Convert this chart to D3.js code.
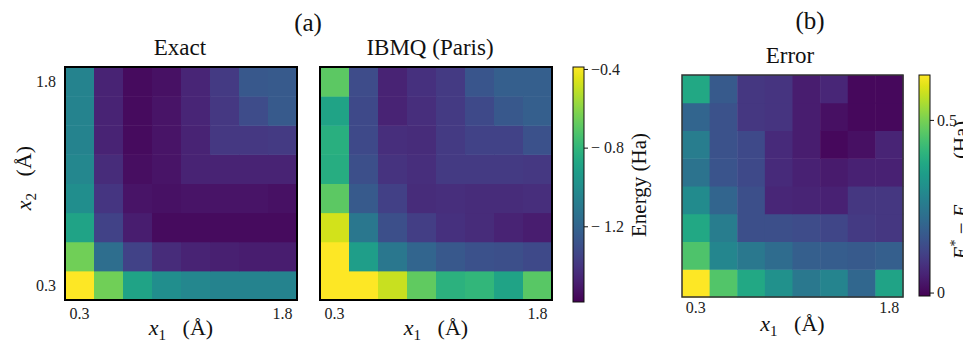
<!DOCTYPE html>
<html>
<head>
<meta charset="utf-8">
<script src="https://cdn.jsdelivr.net/npm/d3@7"></script>
<style>
  body { margin: 0; background: #fff; }
  svg { display: block; font-family: 'Liberation Serif', 'DejaVu Serif', serif; }
</style>
</head>
<body>
<div id="chart"></div>
<script>
// grid positions along x1 / x2 (Angstrom), only the ends are labelled
const gridIdx = d3.range(8)
const tickIdx = [0, 7]
const tickLabels = ['0.3', '1.8']

// energies (Ha), rows = x2 from 0.3 up to 1.8, cols = x1 from 0.3 to 1.8
const exact = [
  [-0.39, -0.65, -0.89, -1.00, -1.03, -1.05, -1.05, -1.05],
  [-0.65, -1.16, -1.35, -1.44, -1.47, -1.48, -1.49, -1.49],
  [-0.89, -1.35, -1.49, -1.55, -1.55, -1.55, -1.55, -1.55],
  [-1.00, -1.40, -1.52, -1.53, -1.52, -1.52, -1.52, -1.53],
  [-1.03, -1.44, -1.54, -1.52, -1.47, -1.47, -1.47, -1.47],
  [-1.05, -1.47, -1.55, -1.52, -1.47, -1.39, -1.39, -1.38],
  [-1.05, -1.47, -1.55, -1.52, -1.46, -1.39, -1.31, -1.25],
  [-1.05, -1.47, -1.55, -1.53, -1.46, -1.38, -1.26, -1.25]
]

const ibmq = [
  [-0.20, -0.28, -0.49, -0.68, -0.82, -0.80, -0.89, -0.70],
  [-0.30, -0.92, -1.11, -1.20, -1.26, -1.29, -1.30, -1.32],
  [-0.47, -1.11, -1.30, -1.37, -1.42, -1.44, -1.47, -1.49],
  [-0.69, -1.25, -1.36, -1.44, -1.43, -1.44, -1.44, -1.43],
  [-0.84, -1.30, -1.41, -1.43, -1.38, -1.38, -1.38, -1.39],
  [-0.83, -1.32, -1.43, -1.44, -1.38, -1.35, -1.35, -1.29],
  [-0.89, -1.32, -1.47, -1.43, -1.38, -1.32, -1.26, -1.23],
  [-0.69, -1.31, -1.47, -1.42, -1.38, -1.27, -1.23, -1.23]
]

// E* - E_exact (Ha)
const error = [
  [0.630, 0.457, 0.374, 0.310, 0.246, 0.278, 0.201, 0.361],
  [0.450, 0.284, 0.246, 0.214, 0.182, 0.176, 0.169, 0.182],
  [0.374, 0.259, 0.144, 0.144, 0.137, 0.124, 0.099, 0.092],
  [0.297, 0.195, 0.144, 0.060, 0.054, 0.048, 0.092, 0.092],
  [0.233, 0.156, 0.131, 0.067, 0.048, 0.035, 0.048, 0.048],
  [0.259, 0.150, 0.131, 0.067, 0.041, 0.003, 0.016, 0.054],
  [0.195, 0.150, 0.092, 0.086, 0.041, 0.016, 0.003, 0.003],
  [0.374, 0.169, 0.092, 0.086, 0.041, 0.060, 0.003, 0.003]
]

const energyDomain = [-1.585, -0.39]
const energyTicks = [-0.4, -0.8, -1.2]
const energyTickLabels = ['\u22120.4', '\u2212 0.8', '\u2212 1.2']
const errorDomain = [-0.01, 0.63]
const errorTicks = [0, 0.5]
const errorTickLabels = ['0', '0.5']

const width = 963
const height = 342

const svg = d3.select('#chart')
  .append('svg')
  .attr('width', width)
  .attr('height', height)

const energyColor = d3.scaleSequential(d3.interpolateViridis).domain(energyDomain).clamp(true)
const errorColor = d3.scaleSequential(d3.interpolateViridis).domain(errorDomain).clamp(true)

// axis groups come with a sans-serif font, drop it so the serif one is inherited
function styleAxis(ax) {
  ax.attr('font-family', null).attr('font-size', null)
  ax.select('.domain').remove()
  ax.selectAll('text').attr('font-size', 16).attr('fill', '#222')
}

// draw one 8x8 heatmap inside the box [x0,x1]x[y0,y1]
function heatmap(data, color, box, opts) {
  const x = d3.scaleBand().domain(gridIdx).range([box.x0, box.x1])
  const y = d3.scaleBand().domain(gridIdx).range([box.y1, box.y0])
  const g = svg.append('g')

  const cells = data.flatMap((row, j) => row.map((v, i) => ({ i, j, v })))
  g.selectAll('rect.cell')
    .data(cells)
    .join('rect')
    .attr('class', 'cell')
    .attr('x', d => x(d.i))
    .attr('y', d => y(d.j))
    .attr('width', x.bandwidth() + 0.5)
    .attr('height', y.bandwidth() + 0.5)
    .attr('fill', d => color(d.v))

  g.append('rect')
    .attr('x', box.x0)
    .attr('y', box.y0)
    .attr('width', box.x1 - box.x0)
    .attr('height', box.y1 - box.y0)
    .attr('fill', 'none')
    .attr('stroke', opts.frame)
    .attr('stroke-width', opts.frameWidth)

  // x ticks at the centres of the first and last cells
  const xAxis = g.append('g')
    .attr('transform', `translate(0,${box.y1 + opts.tickGap})`)
    .call(d3.axisBottom(x).tickValues(tickIdx).tickSize(0).tickPadding(0)
      .tickFormat((d, k) => tickLabels[k]))
  styleAxis(xAxis)

  if (opts.yTicks) {
    const yAxis = g.append('g')
      .attr('transform', `translate(${box.x0 - 9},0)`)
      .call(d3.axisLeft(y).tickValues(tickIdx).tickSize(0).tickPadding(0)
        .tickFormat((d, k) => tickLabels[k]))
    styleAxis(yAxis)
  }

  // title
  g.append('text')
    .attr('x', opts.titleX)
    .attr('y', box.y0 - 12)
    .attr('text-anchor', 'middle')
    .attr('font-size', 23)
    .attr('fill', '#111')
    .text(opts.title)

  // x1 label
  const lab = g.append('text')
    .attr('x', (box.x0 + box.x1) / 2)
    .attr('y', opts.xLabelY)
    .attr('text-anchor', 'middle')
    .attr('font-size', 22)
    .attr('fill', '#111')
  lab.append('tspan').attr('font-style', 'italic').text('x')
  lab.append('tspan').attr('font-size', 15).attr('dy', 5).text('1')
  lab.append('tspan').attr('dy', -5).text('\u2002 (\u00c5)')
}

// vertical colorbar with ticks on the right
function colorbar(color, domain, ticks, labels, box) {
  const id = 'grad' + Math.round(box.x0)
  const grad = svg.append('defs').append('linearGradient')
    .attr('id', id)
    .attr('x1', 0).attr('y1', 1).attr('x2', 0).attr('y2', 0)
  grad.selectAll('stop')
    .data(d3.range(0, 1.0001, 0.05))
    .join('stop')
    .attr('offset', d => d)
    .attr('stop-color', d => color(domain[0] + d * (domain[1] - domain[0])))

  svg.append('rect')
    .attr('x', box.x0)
    .attr('y', box.y0)
    .attr('width', box.x1 - box.x0)
    .attr('height', box.y1 - box.y0)
    .attr('fill', `url(#${id})`)
    .attr('stroke', '#111')
    .attr('stroke-width', 1)

  const s = d3.scaleLinear().domain(domain).range([box.y1, box.y0])
  const ax = svg.append('g')
    .attr('transform', `translate(${box.x1},0)`)
    .call(d3.axisRight(s).tickValues(ticks).tickSize(4).tickPadding(3)
      .tickFormat((d, k) => labels[k]))
  styleAxis(ax)
  ax.selectAll('line').attr('stroke', '#111')
}

// panel (a)
heatmap(exact, energyColor, { x0: 65, x1: 297, y0: 67, y1: 300 },
  { title: 'Exact', titleX: 180, frame: '#000', frameWidth: 2, tickGap: 8, xLabelY: 335, yTicks: true })
heatmap(ibmq, energyColor, { x0: 320, x1: 552, y0: 67, y1: 300 },
  { title: 'IBMQ (Paris)', titleX: 430, frame: '#000', frameWidth: 2, tickGap: 8, xLabelY: 335, yTicks: false })
colorbar(energyColor, energyDomain, energyTicks, energyTickLabels, { x0: 573, x1: 584, y0: 67, y1: 302 })

// panel (b)
heatmap(error, errorColor, { x0: 682, x1: 903, y0: 75, y1: 297 },
  { title: 'Error', titleX: 790, frame: '#333', frameWidth: 1.5, tickGap: 5, xLabelY: 331, yTicks: false })
colorbar(errorColor, errorDomain, errorTicks, errorTickLabels, { x0: 919, x1: 930, y0: 75, y1: 296 })

// panel tags
svg.append('text').attr('x', 308).attr('y', 31).attr('text-anchor', 'middle')
  .attr('font-size', 25).attr('fill', '#111').text('(a)')
svg.append('text').attr('x', 810).attr('y', 29).attr('text-anchor', 'middle')
  .attr('font-size', 25).attr('fill', '#111').text('(b)')

// x2 label
const ylab = svg.append('text')
  .attr('transform', 'translate(31,178) rotate(-90)')
  .attr('text-anchor', 'middle')
  .attr('font-size', 22)
  .attr('fill', '#111')
ylab.append('tspan').attr('font-style', 'italic').text('x')
ylab.append('tspan').attr('font-size', 15).attr('dy', 5).text('2')
ylab.append('tspan').attr('dy', -5).text('\u2002 (\u00c5)')

// colorbar labels
svg.append('text')
  .attr('transform', 'translate(646,185) rotate(-90)')
  .attr('text-anchor', 'middle')
  .attr('font-size', 21)
  .attr('fill', '#111')
  .text('Energy (Ha)')

// this one runs past the right edge, as in the reference
const elab = svg.append('text')
  .attr('transform', 'translate(968,190) rotate(-90)')
  .attr('text-anchor', 'middle')
  .attr('font-size', 21)
  .attr('fill', '#111')
elab.append('tspan').attr('font-style', 'italic').text('E')
elab.append('tspan').attr('font-size', 14).attr('dy', -8).text('*')
elab.append('tspan').attr('dy', 8).text(' \u2212 ')
elab.append('tspan').attr('font-style', 'italic').text('E')
elab.append('tspan').attr('font-style', 'italic').attr('font-size', 14).attr('dy', 5).text('exact')
elab.append('tspan').attr('dy', -5).text('\u2002 (Ha)')
</script>
</body>
</html>
